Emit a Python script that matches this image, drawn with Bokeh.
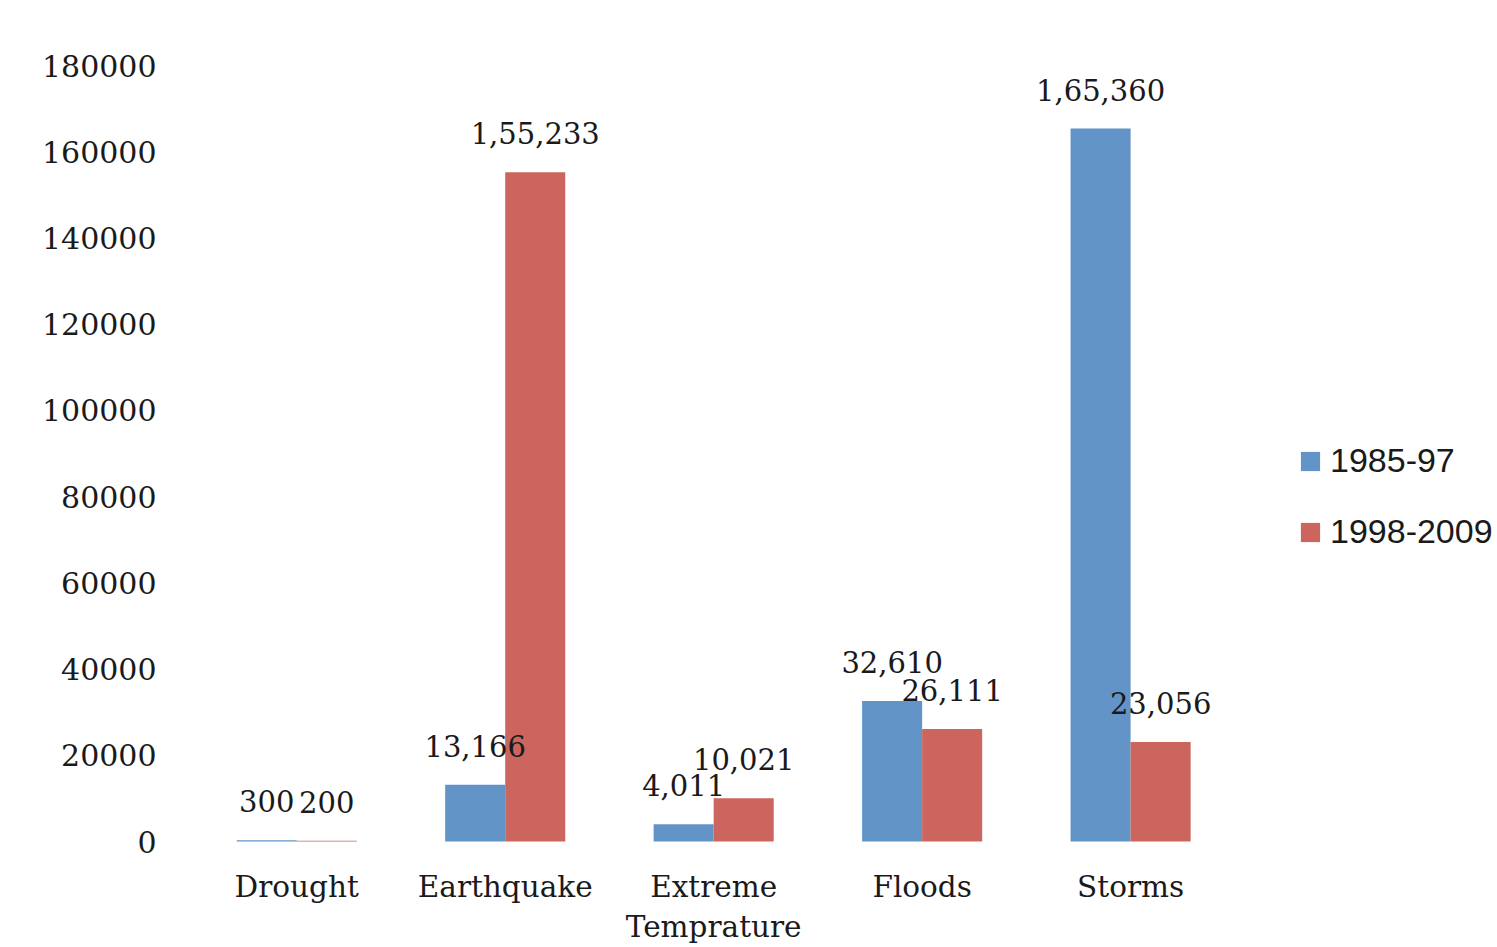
from bokeh.plotting import figure
from bokeh.models import ColumnDataSource, Range1d, FixedTicker, NumeralTickFormatter, Legend, LegendItem
from bokeh.transform import dodge
from bokeh.core.properties import value
from bokeh.embed import file_html
from bokeh.resources import INLINE

categories = ["Drought", "Earthquake", "Extreme Temprature", "Floods", "Storms"]
category_labels = ["Drought", "Earthquake", "Extreme\nTemprature", "Floods", "Storms"]
series_names = ["1985-97", "1998-2009"]
vals_1985_97 = [300, 13166, 4011, 32610, 165360]
vals_1998_2009 = [200, 155233, 10021, 26111, 23056]
labels_1985_97 = ["300", "13,166", "4,011", "32,610", "1,65,360"]
labels_1998_2009 = ["200", "1,55,233", "10,021", "26,111", "23,056"]
y_ticks = [0, 20000, 40000, 60000, 80000, 100000, 120000, 140000, 160000, 180000]

BLUE = "#6294C8"
RED = "#CB655D"
SERIF = "DejaVu Serif"
INK = "#1a1a1a"

idx = list(range(len(categories)))
src = ColumnDataSource(dict(idx=idx, cat=categories, a=vals_1985_97, b=vals_1998_2009,
                            la=labels_1985_97, lb=labels_1998_2009,
                            cl=category_labels, zero=[0] * len(categories)))

# frame spans from the y-axis to the right edge and down to the bottom edge,
# so that the legend and the category labels below the baseline stay inside it
y_max = y_ticks[-1]
y_min = -y_max * 106 / 776
p = figure(width=1497, height=947, x_range=Range1d(-0.5, len(categories) + 0.76),
           y_range=Range1d(y_min, y_max), output_backend="svg", toolbar_location=None,
           min_border_left=192, min_border_right=0, min_border_top=65, min_border_bottom=0)
p.outline_line_color = None
p.background_fill_color = "white"
p.border_fill_color = "white"
p.grid.visible = False

bw = 0.288
r1 = p.vbar(x=dodge("idx", -bw / 2), top="a", width=bw, source=src,
            fill_color=BLUE, line_color=None)
r2 = p.vbar(x=dodge("idx", bw / 2), top="b", width=bw, source=src,
            fill_color=RED, line_color=None)

for off, col, lab in [(-bw / 2, "a", "la"), (bw / 2, "b", "lb")]:
    p.text(x=dodge("idx", off), y=col, text=lab, source=src,
           text_align="center", text_baseline="middle", y_offset=-39,
           text_font=value(SERIF), text_font_size="29px", text_color=INK)

# category labels (multi-line capable)
p.text(x="idx", y="zero", text="cl", source=src, text_align="center",
       text_baseline="top", y_offset=28, text_line_height=1.2,
       text_font=value(SERIF), text_font_size="29.5px", text_color=INK)

p.yaxis.ticker = FixedTicker(ticks=y_ticks)
p.yaxis.formatter = NumeralTickFormatter(format="0")
p.yaxis.axis_line_color = None
p.yaxis.major_tick_line_color = None
p.yaxis.minor_tick_line_color = None
p.yaxis.major_label_standoff = 30
p.yaxis.major_label_text_font = SERIF
p.yaxis.major_label_text_font_size = "30px"
p.yaxis.major_label_text_color = INK

p.xaxis.visible = False

legend = Legend(items=[LegendItem(label=series_names[0], renderers=[r1]),
                       LegendItem(label=series_names[1], renderers=[r2])],
                location=(1106, 396), orientation="vertical")
legend.border_line_color = None
legend.background_fill_alpha = 0
legend.padding = 0
legend.margin = 0
legend.spacing = 32
legend.glyph_width = 24
legend.glyph_height = 24
legend.label_height = 30
legend.label_standoff = 8
legend.label_text_font = "Liberation Sans"
legend.label_text_font_size = "34px"
legend.label_text_color = INK
p.add_layout(legend, "center")

open("out.html", "w").write(file_html(p, INLINE))
